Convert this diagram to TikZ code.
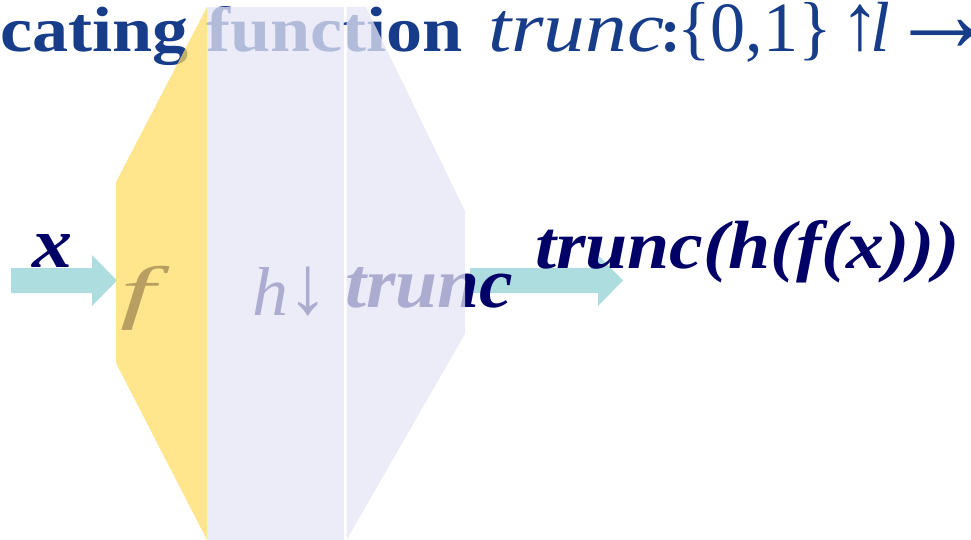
\documentclass[tikz,border=0pt]{standalone}
\usepackage{fontspec}
\usepackage{graphicx}
\setmainfont{Liberation Serif}
\definecolor{titleblue}{RGB}{23,60,138}
\definecolor{labelnavy}{RGB}{0,0,102}
\definecolor{arrowteal}{RGB}{174,221,224}
\definecolor{stagegold}{RGB}{255,221,96}
\definecolor{stagelav}{RGB}{230,230,246}
\tikzset{
  flowarrow/.style={fill=arrowteal, draw=none},
  goldstage/.style={fill=stagegold, fill opacity=0.72, draw=none},
  lavstage/.style={fill=stagelav, fill opacity=0.75, draw=none},
  lbl/.style={inner sep=0pt, outer sep=0pt, anchor=base west, text=labelnavy},
  ttl/.style={inner sep=0pt, outer sep=0pt, anchor=base west, text=titleblue},
}
\begin{document}
\begin{tikzpicture}[x=1pt,y=-1pt]
\useasboundingbox (0,0) rectangle (971,540);
\clip (0,0) rectangle (971,540);

% input and output arrows
\draw[flowarrow] (11,268) -- (92,268) -- (92,255) -- (117,280.5) -- (92,306) -- (92,293) -- (11,293) -- cycle;
\draw[flowarrow] (470,268) -- (598,268) -- (598,255) -- (623,280.5) -- (598,306) -- (598,293) -- (470,293) -- cycle;

% heading line
\node[ttl] (head1) at (0,52) {\resizebox{463pt}{45pt}{\bfseries cating function}};
\node[ttl] (hdtrunc) at (488,52) {\resizebox{176pt}{40pt}{\itshape trunc}};
\node[ttl] (hdcolon) at (665,52) {\makebox[12pt][c]{\fontsize{62}{62}\selectfont\bfseries :}};
\node[ttl] (hdset) at (677,52) {\resizebox{155pt}{49pt}{\{0,1\}}};
\node[ttl, anchor=south west] (hdup) at (840,52) {\resizebox*{!}{47pt}{↑}};
\node[ttl] (hdl) at (870,52) {\fontsize{71}{71}\selectfont\itshape l};
\node[ttl, anchor=center] (hdto) at (943,36) {\resizebox{110pt}{!}{→}};

% labels
\node[lbl] (xin) at (32,267) {\resizebox{40pt}{33pt}{\bfseries\itshape x}};
\node[lbl] (fst) at (120,315) {\fontsize{70}{70}\selectfont\scalebox{1.8}[1]{\itshape f}};
\node[lbl] (hst) at (252,315) {\resizebox{36pt}{48pt}{\itshape h}};
\node[lbl, anchor=south west] (arr) at (287,316) {\resizebox*{!}{49pt}{↓}};
\node[lbl] (tst) at (345,307) {\resizebox{168pt}{40pt}{\bfseries\itshape trunc}};
\node[lbl] (out) at (535,268) {\resizebox{425pt}{48pt}{\bfseries\itshape trunc(h(f(x)))}};

% processing stages
\fill[goldstage] (207,7) -- (116,182) -- (116,363) -- (207,540) -- cycle;
\fill[lavstage] (207,7) rectangle (343.5,540);
\fill[lavstage] (346.5,7) -- (366,7) -- (465,211) -- (465,334) -- (346.5,540) -- cycle;
\end{tikzpicture}
\end{document}
